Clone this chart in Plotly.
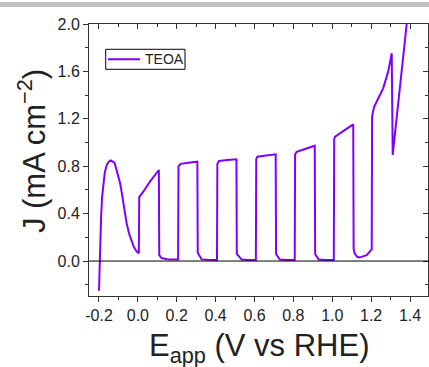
import plotly.graph_objects as go

# Chopped LSV curve
E_app = [-0.200, -0.197, -0.193, -0.189, -0.184, -0.178, -0.170, -0.160, -0.150, -0.140,
         -0.130, -0.120, -0.110, -0.100, -0.092, -0.083, -0.075, -0.066, -0.058, -0.045,
         -0.032, -0.020, -0.006, 0.005,
         0.007, 0.028, 0.062, 0.085, 0.108,
         0.110, 0.122, 0.150, 0.207,
         0.209, 0.220, 0.260, 0.306,
         0.308, 0.328, 0.360, 0.407,
         0.409, 0.417, 0.460, 0.507,
         0.509, 0.534, 0.570, 0.607,
         0.609, 0.615, 0.660, 0.709,
         0.711, 0.730, 0.770, 0.807,
         0.809, 0.817, 0.860, 0.910,
         0.912, 0.930, 0.970, 1.008,
         1.010, 1.015, 1.060, 1.108,
         1.110, 1.115, 1.130, 1.143, 1.177, 1.203,
         1.205, 1.215, 1.237, 1.262, 1.288, 1.306,
         1.311, 1.383, 1.400]
J = [-0.25, 0.00, 0.20, 0.38, 0.54, 0.66, 0.75, 0.81, 0.838, 0.848,
     0.842, 0.83, 0.77, 0.72, 0.66, 0.58, 0.49, 0.40, 0.32, 0.23,
     0.163, 0.115, 0.079, 0.066,
     0.54, 0.585, 0.67, 0.72, 0.768,
     0.05, 0.025, 0.016, 0.014,
     0.80, 0.82, 0.83, 0.838,
     0.07, 0.014, 0.010, 0.009,
     0.82, 0.844, 0.852, 0.858,
     0.06, 0.012, 0.008, 0.008,
     0.86, 0.88, 0.89, 0.90,
     0.06, 0.012, 0.008, 0.008,
     0.90, 0.922, 0.945, 0.973,
     0.06, 0.012, 0.008, 0.008,
     1.03, 1.05, 1.10, 1.153,
     0.10, 0.065, 0.032, 0.031, 0.05, 0.099,
     1.22, 1.30, 1.373, 1.457, 1.60, 1.753,
     0.895, 2.0, 2.1]

series_name = "TEOA"
x_title = "E<sub>app</sub> (V vs RHE)"
y_title = "J (mA cm<sup>−2</sup>)"
x_ticks = [-0.2, 0.0, 0.2, 0.4, 0.6, 0.8, 1.0, 1.2, 1.4]
y_ticks = [0.0, 0.4, 0.8, 1.2, 1.6, 2.0]
x_range = [-0.2514, 1.4926]
y_range = [-0.295, 2.0]

FONT = "Liberation Sans, Arial, sans-serif"
PURPLE = "#7f00ff"
AX = "#333333"
TXT = "#222222"

fig = go.Figure()
fig.add_trace(go.Scatter(x=E_app, y=J, mode="lines", name=series_name,
                         line=dict(color=PURPLE, width=2), showlegend=False))
# dummy trace for mirror axes
fig.add_trace(go.Scatter(x=[None], y=[None], xaxis="x2", yaxis="y2",
                         showlegend=False, hoverinfo="skip"))

common = dict(showgrid=False, zeroline=False, showline=True, linecolor=AX, linewidth=1,
              tickcolor=AX, tickwidth=1, automargin=False)

fig.update_layout(
    width=429, height=367,
    margin=dict(l=89, r=1, t=24, b=71),
    paper_bgcolor="white", plot_bgcolor="white",
    font=dict(family=FONT, color=TXT),
    showlegend=False,
    xaxis=dict(range=x_range, tickvals=x_ticks, ticktext=[f"{v:.1f}" for v in x_ticks],
               ticks="outside", ticklen=5,
               minor=dict(ticks="outside", dtick=0.1, tick0=0, ticklen=3, tickcolor=AX),
               tickfont=dict(size=16, family=FONT, color=TXT),
               **common),
    yaxis=dict(range=y_range, tickvals=y_ticks, ticktext=[f"{v:.1f}" for v in y_ticks],
               ticks="outside", ticklen=5,
               minor=dict(ticks="outside", dtick=0.2, tick0=0, ticklen=3, tickcolor=AX),
               tickfont=dict(size=16, family=FONT, color=TXT),
               **common),
    xaxis2=dict(range=x_range, overlaying="x", side="top", anchor="y2",
                tickvals=x_ticks, showticklabels=False, ticks="inside", ticklen=5,
                minor=dict(ticks="inside", dtick=0.1, tick0=0, ticklen=3, tickcolor=AX),
                **common),
    yaxis2=dict(range=y_range, overlaying="y", side="right", anchor="x2",
                tickvals=y_ticks, showticklabels=False, ticks="inside", ticklen=5,
                minor=dict(ticks="inside", dtick=0.2, tick0=0, ticklen=3, tickcolor=AX),
                **common),
    shapes=[
        dict(type="line", xref="paper", yref="y", x0=0, x1=1, y0=0, y1=0,
             line=dict(color="black", width=1)),
        dict(type="rect", xref="paper", yref="paper", x0=-0.27, x1=1.005, y0=1.0625, y1=1.081,
             fillcolor="#c0c0c0", line=dict(width=0), layer="above"),
        # legend box and sample line
        dict(type="rect", xref="paper", yref="paper", x0=0.0493, x1=0.2832, y0=0.8335, y1=0.907,
             fillcolor="white", line=dict(color="black", width=1)),
        dict(type="line", xref="paper", yref="paper", x0=0.056, x1=0.1504, y0=0.870, y1=0.870,
             line=dict(color=PURPLE, width=2)),
    ],
    annotations=[
        dict(text=series_name, xref="paper", yref="paper", x=0.1593, y=0.870,
             xanchor="left", yanchor="middle", showarrow=False,
             font=dict(size=14, family=FONT, color=TXT)),
        dict(text=x_title, xref="paper", yref="paper", x=0.504, y=-0.191,
             xanchor="center", yanchor="middle", showarrow=False,
             font=dict(size=31, family=FONT, color=TXT)),
        dict(text=y_title, xref="paper", yref="paper", x=-0.168, y=0.533, textangle=-90,
             xanchor="center", yanchor="middle", showarrow=False,
             font=dict(size=31, family=FONT, color=TXT)),
    ],
)

fig.write_html("out.html", config={"displayModeBar": False},
               post_script="document.body.style.margin='0';")
